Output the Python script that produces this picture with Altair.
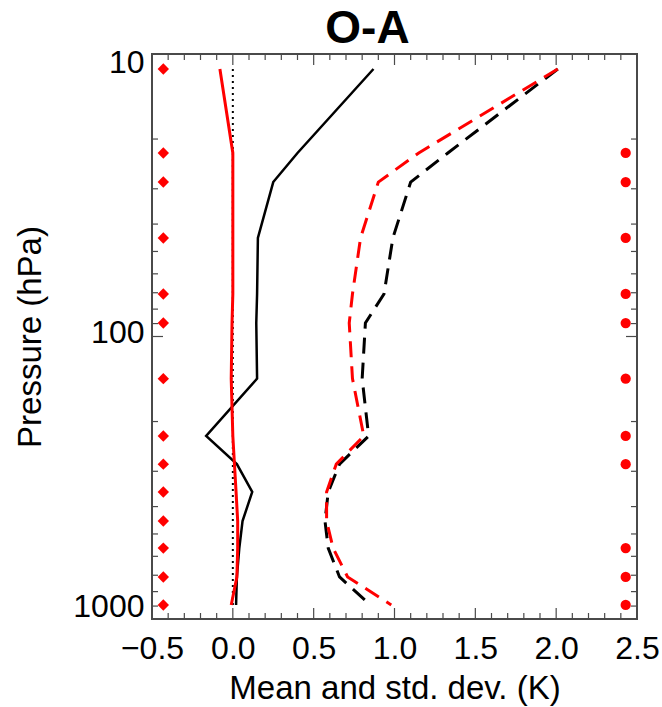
import altair as alt
import pandas as pd

# ---------------- data ----------------
pressure = [11.3, 22.4, 28.4, 44.8, 70.7, 89.6, 141, 225, 283, 355, 450, 561, 710, 892]
mean_black = [0.87, 0.40, 0.25, 0.155, 0.15, 0.145, 0.15, -0.165, 0.025, 0.12, 0.06, 0.04, 0.025, 0.02]
mean_red = [-0.08, 0.0, 0.0, 0.0, 0.0, -0.005, -0.01, 0.0, 0.01, 0.02, 0.03, 0.03, 0.025, -0.01]
std_black = [2.01, 1.33, 1.10, 0.99, 0.935, 0.82, 0.80, 0.84, 0.66, 0.59, 0.57, 0.59, 0.66, 0.85]
std_red = [2.01, 1.15, 0.90, 0.79, 0.74, 0.72, 0.74, 0.81, 0.64, 0.58, 0.58, 0.62, 0.71, 0.98]

left_dot_x = -0.43
left_dot_levels = [11.3, 22.4, 28.4, 44.8, 70.7, 89.6, 141, 225, 283, 355, 450, 561, 710, 892]
right_dot_x = 2.43
right_dot_levels = [22.4, 28.4, 44.8, 70.7, 89.6, 141, 225, 283, 561, 710, 892]

zero_line_x = [0.0, 0.0]
zero_line_p = [11.3, 892]

x_major = [-0.5, 0.0, 0.5, 1.0, 1.5, 2.0, 2.5]
x_minor = [-0.4, -0.3, -0.2, -0.1, 0.1, 0.2, 0.3, 0.4, 0.6, 0.7, 0.8, 0.9,
           1.1, 1.2, 1.3, 1.4, 1.6, 1.7, 1.8, 1.9, 2.1, 2.2, 2.3, 2.4]
y_major = [10, 100, 1000]
y_minor = [20, 30, 40, 50, 60, 70, 80, 90, 200, 300, 400, 500, 600, 700, 800, 900]

title_text = ["O-A"]

# ---------------- layout ----------------
W, H = 485, 565
FONT = "Liberation Sans"
FRAME = "#4a4a4a"
MAJ, MIN = 11, 6

xs = alt.Scale(domain=[-0.5, 2.5], nice=False, zero=False)
ys = alt.Scale(type="log", domain=[10, 1000], reverse=True, nice=False)

x_axis = alt.Axis(
    values=x_major, format=".1f", title="Mean and std. dev. (K)",
    ticks=False, domain=False, grid=False, labelFlush=False, labelOverlap=False,
    labelFont=FONT, labelFontSize=32, labelColor="black", labelPadding=14,
    titleFont=FONT, titleFontSize=33, titleFontWeight="normal", titleColor="black",
    titleX=W / 2, titleY=79, titleBaseline="alphabetic", titleAlign="center",
)
y_axis = alt.Axis(
    values=y_major, format="d", title="Pressure (hPa)",
    ticks=False, domain=False, grid=False, labelFlush=False, labelOverlap=False,
    labelFont=FONT, labelFontSize=32, labelColor="black", labelPadding=8,
    labelBaseline="middle",
    labelOffset={"condition": [{"test": "datum.value <= 10", "value": 8},
                               {"test": "datum.value >= 1000", "value": -13}],
                 "value": -4},
    titleFont=FONT, titleFontSize=33, titleFontWeight="normal", titleColor="black",
    titleX=-112, titleY=H / 2, titleAngle=270, titleBaseline="alphabetic", titleAlign="center",
)

X = lambda f: alt.X(f, scale=xs, axis=x_axis)
Y = lambda f: alt.Y(f, scale=ys, axis=y_axis)


def profile_df(vals):
    return pd.DataFrame({"pressure": pressure, "value": vals})


def line_layer(vals, color, width, dash=None):
    kw = dict(color=color, strokeWidth=width, clip=False)
    if dash is not None:
        kw["strokeDash"] = dash
    return alt.Chart(profile_df(vals)).mark_line(**kw).encode(
        x=X("value:Q"), y=Y("pressure:Q"), order=alt.Order("pressure:Q"),
    )


zero_layer = alt.Chart(pd.DataFrame({"value": zero_line_x, "pressure": zero_line_p})).mark_line(
    color="black", strokeWidth=2, strokeDash=[2, 4]
).encode(x=X("value:Q"), y=Y("pressure:Q"), order=alt.Order("pressure:Q"))

black_mean = line_layer(mean_black, "black", 2.5)
black_std = line_layer(std_black, "black", 3, dash=[16, 9])
red_std = line_layer(std_red, "#ff0000", 3, dash=[16, 9])
red_mean = line_layer(mean_red, "#ff0000", 3)

left_dots = alt.Chart(pd.DataFrame({"value": [left_dot_x] * len(left_dot_levels),
                                    "pressure": left_dot_levels})).mark_point(
    shape="diamond", filled=True, size=130, color="#ff0000", opacity=1
).encode(x=X("value:Q"), y=Y("pressure:Q"))
right_dots = alt.Chart(pd.DataFrame({"value": [right_dot_x] * len(right_dot_levels),
                                     "pressure": right_dot_levels})).mark_point(
    shape="circle", filled=True, size=105, color="#ff0000", opacity=1
).encode(x=X("value:Q"), y=Y("pressure:Q"))


def xtick(vals, top, length):
    y0 = 0 if top else H
    y1 = length if top else H - length
    return alt.Chart(pd.DataFrame({"value": vals})).mark_rule(color=FRAME, strokeWidth=1.2).encode(
        x=X("value:Q"), y=alt.value(y0), y2=alt.value(y1)
    )


def ytick(vals, right, length):
    x0 = W if right else 0
    x1 = W - length if right else length
    return alt.Chart(pd.DataFrame({"pressure": vals})).mark_rule(color=FRAME, strokeWidth=1.2).encode(
        y=Y("pressure:Q"), x=alt.value(x0), x2=alt.value(x1)
    )


ticks = [
    xtick(x_major, False, MAJ), xtick(x_minor, False, MIN),
    xtick(x_major, True, MAJ), xtick(x_minor, True, MIN),
    ytick(y_major, False, MAJ), ytick(y_minor, False, MIN),
    ytick(y_major, True, MAJ), ytick(y_minor, True, MIN),
]

title_layer = alt.Chart(pd.DataFrame({"t": title_text})).mark_text(
    font=FONT, fontSize=46, fontWeight="bold", color="black",
    align="center", baseline="alphabetic"
).encode(text="t:N", x=alt.value(215.5), y=alt.value(-11))

chart = alt.layer(
    zero_layer, *ticks, black_mean, black_std, red_std, red_mean, left_dots, right_dots, title_layer
).properties(
    width=W, height=H,
    autosize=alt.AutoSizeParams(type="none"),
    padding={"left": 152, "top": 54, "right": 25, "bottom": 88},
    background="white",
).configure_view(stroke=FRAME, strokeWidth=2)

chart.save("out.html", embed_options={"renderer": "svg", "actions": False})
